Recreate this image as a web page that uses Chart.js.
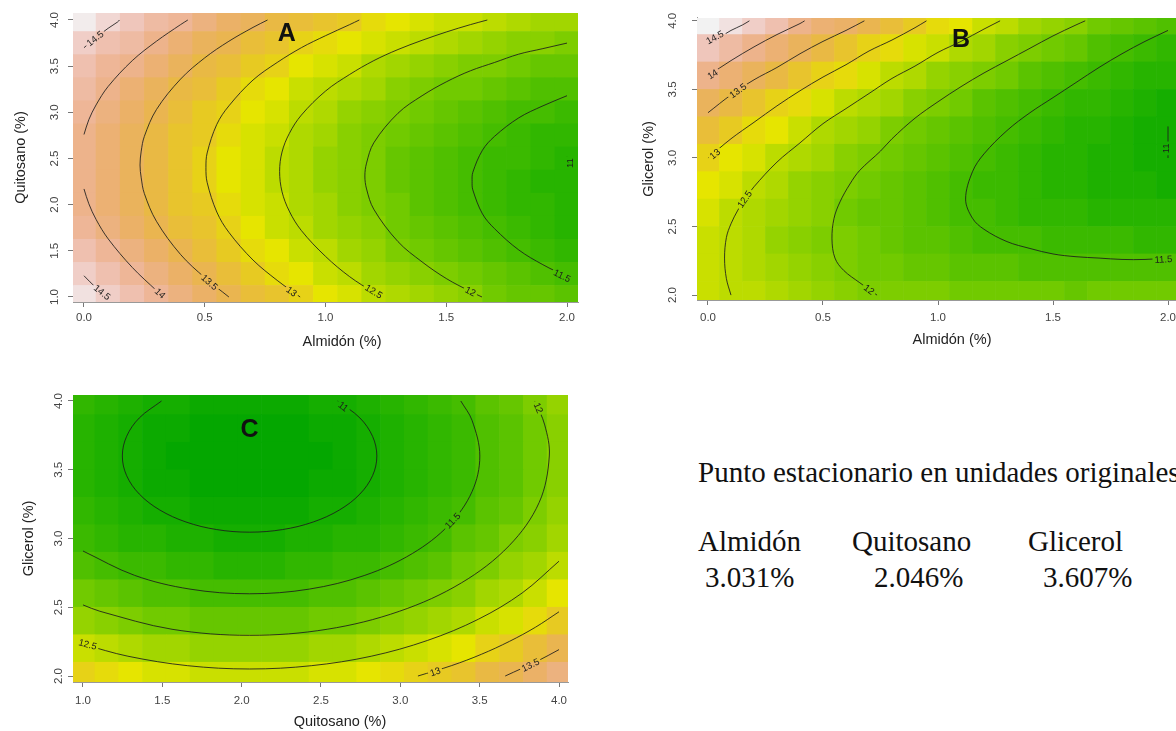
<!DOCTYPE html>
<html lang="es">
<head>
<meta charset="utf-8">
<title>Superficies de respuesta</title>
<script src="https://cdn.jsdelivr.net/npm/chart.js"></script>
<style>
  html, body { margin: 0; padding: 0; background: #fff; }
  body { width: 1176px; height: 731px; overflow: hidden; position: relative; }
  canvas { position: absolute; }
  .nota { position: absolute; font-family: "Liberation Serif", "Times New Roman", serif; font-size: 29px; line-height: 29px; color: #111; white-space: nowrap; }
</style>
</head>
<body>
<canvas id="graficoA" width="600" height="360" style="left:0;top:0"></canvas>
<canvas id="graficoB" width="600" height="360" style="left:620px;top:0"></canvas>
<canvas id="graficoC" width="600" height="351" style="left:0;top:380px"></canvas>

<div class="nota" style="left:698px;top:458px">Punto estacionario en unidades originales</div>
<div class="nota" style="left:698px;top:527px">Almidón</div>
<div class="nota" style="left:705px;top:563px">3.031%</div>
<div class="nota" style="left:852px;top:527px">Quitosano</div>
<div class="nota" style="left:874px;top:563px">2.046%</div>
<div class="nota" style="left:1028px;top:527px">Glicerol</div>
<div class="nota" style="left:1043px;top:563px">3.607%</div>

<script>
Chart.defaults.font.family = '"Liberation Sans", Arial, sans-serif';
Chart.defaults.color = '#444';

// grid positions
const almidon = [0, 0.1, 0.2, 0.3, 0.4, 0.5, 0.6, 0.7, 0.8, 0.9, 1, 1.1, 1.2, 1.3, 1.4, 1.5, 1.6, 1.7, 1.8, 1.9, 2];
const quitosanoA = [1, 1.25, 1.5, 1.75, 2, 2.25, 2.5, 2.75, 3, 3.25, 3.5, 3.75, 4];
const glicerol = [2, 2.2, 2.4, 2.6, 2.8, 3, 3.2, 3.4, 3.6, 3.8, 4];
const quitosanoC = [1, 1.15, 1.3, 1.45, 1.6, 1.75, 1.9, 2.05, 2.2, 2.35, 2.5, 2.65, 2.8, 2.95, 3.1, 3.25, 3.4, 3.55, 3.7, 3.85, 4];

// tick labels
const ticksAlmidon = [0, 0.5, 1, 1.5, 2];
const ticksQuitosano = [1, 1.5, 2, 2.5, 3, 3.5, 4];
const ticksQuitosanoC = [1, 1.5, 2, 2.5, 3, 3.5, 4];
const ticksGlicerol = [2, 2.5, 3, 3.5, 4];

// A: one array per almidon value, quitosano 1.0 -> 4.0
const respA = [
  [14.7, 14.5, 14.3, 14.1, 14.0, 14.0, 14.0, 14.0, 14.1, 14.2, 14.3, 14.5, 14.8],
  [14.5, 14.3, 14.1, 13.9, 13.8, 13.8, 13.8, 13.8, 13.9, 14.0, 14.1, 14.3, 14.6],
  [14.3, 14.1, 13.9, 13.7, 13.6, 13.6, 13.6, 13.6, 13.7, 13.8, 14.0, 14.2, 14.4],
  [14.1, 13.9, 13.7, 13.5, 13.4, 13.4, 13.4, 13.4, 13.5, 13.6, 13.8, 14.0, 14.2],
  [13.9, 13.7, 13.5, 13.3, 13.2, 13.2, 13.2, 13.2, 13.3, 13.4, 13.6, 13.8, 14.1],
  [13.7, 13.5, 13.3, 13.2, 13.1, 13.0, 13.0, 13.1, 13.1, 13.3, 13.4, 13.6, 13.9],
  [13.5, 13.3, 13.1, 13.0, 12.9, 12.8, 12.8, 12.9, 13.0, 13.1, 13.3, 13.5, 13.7],
  [13.3, 13.1, 12.9, 12.8, 12.7, 12.7, 12.7, 12.7, 12.8, 12.9, 13.1, 13.3, 13.6],
  [13.2, 12.9, 12.8, 12.6, 12.6, 12.5, 12.5, 12.6, 12.7, 12.8, 13.0, 13.2, 13.4],
  [13.0, 12.8, 12.6, 12.5, 12.4, 12.4, 12.4, 12.4, 12.5, 12.6, 12.8, 13.0, 13.3],
  [12.8, 12.6, 12.5, 12.3, 12.3, 12.2, 12.2, 12.3, 12.4, 12.5, 12.7, 12.9, 13.2],
  [12.7, 12.5, 12.3, 12.2, 12.1, 12.1, 12.1, 12.1, 12.2, 12.4, 12.6, 12.8, 13.1],
  [12.5, 12.3, 12.2, 12.1, 12.0, 12.0, 12.0, 12.0, 12.1, 12.3, 12.4, 12.7, 12.9],
  [12.4, 12.2, 12.0, 11.9, 11.9, 11.8, 11.8, 11.9, 12.0, 12.1, 12.3, 12.6, 12.8],
  [12.3, 12.1, 11.9, 11.8, 11.7, 11.7, 11.7, 11.8, 11.9, 12.0, 12.2, 12.5, 12.7],
  [12.2, 12.0, 11.8, 11.7, 11.6, 11.6, 11.6, 11.7, 11.8, 11.9, 12.1, 12.4, 12.6],
  [12.1, 11.9, 11.7, 11.6, 11.5, 11.5, 11.5, 11.6, 11.7, 11.9, 12.0, 12.3, 12.6],
  [11.9, 11.8, 11.6, 11.5, 11.4, 11.4, 11.4, 11.5, 11.6, 11.8, 12.0, 12.2, 12.5],
  [11.8, 11.7, 11.5, 11.4, 11.3, 11.3, 11.4, 11.4, 11.5, 11.7, 11.9, 12.1, 12.4],
  [11.8, 11.6, 11.4, 11.3, 11.3, 11.2, 11.3, 11.3, 11.5, 11.6, 11.8, 12.1, 12.3],
  [11.7, 11.5, 11.3, 11.2, 11.2, 11.2, 11.2, 11.3, 11.4, 11.6, 11.8, 12.0, 12.3]
];

// B: one array per almidon value, glicerol 2.0 -> 4.0
const respB = [
  [12.6, 12.6, 12.6, 12.7, 12.8, 13.0, 13.3, 13.6, 14.0, 14.4, 14.9],
  [12.5, 12.5, 12.5, 12.5, 12.7, 12.8, 13.1, 13.4, 13.8, 14.2, 14.7],
  [12.5, 12.4, 12.4, 12.4, 12.5, 12.7, 12.9, 13.2, 13.6, 14.0, 14.5],
  [12.4, 12.3, 12.2, 12.3, 12.4, 12.5, 12.8, 13.0, 13.4, 13.8, 14.3],
  [12.3, 12.2, 12.1, 12.2, 12.2, 12.4, 12.6, 12.9, 13.2, 13.6, 14.0],
  [12.2, 12.1, 12.0, 12.1, 12.1, 12.3, 12.4, 12.7, 13.0, 13.4, 13.8],
  [12.1, 12.0, 12.0, 11.9, 12.0, 12.1, 12.3, 12.5, 12.9, 13.2, 13.7],
  [12.0, 11.9, 11.9, 11.8, 11.9, 12.0, 12.2, 12.4, 12.7, 13.0, 13.5],
  [12.0, 11.9, 11.8, 11.8, 11.8, 11.9, 12.0, 12.3, 12.5, 12.9, 13.3],
  [12.0, 11.8, 11.7, 11.7, 11.7, 11.8, 11.9, 12.1, 12.4, 12.7, 13.1],
  [12.0, 11.8, 11.7, 11.6, 11.6, 11.7, 11.8, 12.0, 12.2, 12.6, 12.9],
  [11.9, 11.7, 11.6, 11.5, 11.5, 11.6, 11.7, 11.9, 12.1, 12.4, 12.8],
  [11.9, 11.7, 11.5, 11.5, 11.4, 11.5, 11.6, 11.7, 12.0, 12.3, 12.6],
  [11.9, 11.7, 11.5, 11.4, 11.4, 11.4, 11.5, 11.6, 11.9, 12.1, 12.5],
  [11.9, 11.6, 11.5, 11.3, 11.3, 11.3, 11.4, 11.5, 11.7, 12.0, 12.3],
  [11.9, 11.6, 11.4, 11.3, 11.2, 11.2, 11.3, 11.4, 11.6, 11.9, 12.2],
  [11.8, 11.6, 11.4, 11.3, 11.2, 11.2, 11.2, 11.3, 11.5, 11.8, 12.1],
  [11.9, 11.6, 11.4, 11.2, 11.1, 11.1, 11.2, 11.3, 11.4, 11.6, 11.9],
  [11.9, 11.6, 11.4, 11.2, 11.1, 11.1, 11.1, 11.2, 11.3, 11.5, 11.8],
  [11.9, 11.6, 11.3, 11.2, 11.1, 11.0, 11.0, 11.1, 11.2, 11.4, 11.7],
  [11.9, 11.6, 11.3, 11.2, 11.0, 11.0, 11.0, 11.0, 11.2, 11.3, 11.6]
];

// C: one array per quitosano value, glicerol 2.0 -> 4.0
const respC = [
  [13.0, 12.6, 12.2, 11.9, 11.6, 11.4, 11.3, 11.2, 11.2, 11.2, 11.3],
  [12.9, 12.5, 12.1, 11.8, 11.5, 11.3, 11.2, 11.1, 11.1, 11.1, 11.2],
  [12.8, 12.4, 12.0, 11.7, 11.4, 11.2, 11.1, 11.0, 11.0, 11.0, 11.1],
  [12.7, 12.3, 11.9, 11.6, 11.4, 11.2, 11.0, 10.9, 10.9, 10.9, 11.0],
  [12.7, 12.3, 11.9, 11.6, 11.3, 11.1, 11.0, 10.9, 10.8, 10.9, 11.0],
  [12.6, 12.2, 11.8, 11.5, 11.3, 11.1, 10.9, 10.8, 10.8, 10.8, 10.9],
  [12.6, 12.2, 11.8, 11.5, 11.2, 11.0, 10.9, 10.8, 10.8, 10.8, 10.9],
  [12.6, 12.2, 11.8, 11.5, 11.2, 11.0, 10.9, 10.8, 10.8, 10.8, 10.9],
  [12.6, 12.2, 11.8, 11.5, 11.2, 11.0, 10.9, 10.8, 10.8, 10.8, 10.9],
  [12.6, 12.2, 11.8, 11.5, 11.3, 11.1, 10.9, 10.8, 10.8, 10.8, 10.9],
  [12.7, 12.3, 11.9, 11.6, 11.3, 11.1, 11.0, 10.9, 10.8, 10.9, 11.0],
  [12.7, 12.3, 11.9, 11.6, 11.4, 11.2, 11.0, 10.9, 10.9, 10.9, 11.0],
  [12.8, 12.4, 12.0, 11.7, 11.4, 11.2, 11.1, 11.0, 11.0, 11.0, 11.1],
  [12.9, 12.5, 12.1, 11.8, 11.5, 11.3, 11.2, 11.1, 11.1, 11.1, 11.2],
  [13.0, 12.6, 12.2, 11.9, 11.6, 11.4, 11.3, 11.2, 11.2, 11.2, 11.3],
  [13.1, 12.7, 12.3, 12.0, 11.7, 11.5, 11.4, 11.3, 11.3, 11.3, 11.4],
  [13.2, 12.8, 12.4, 12.1, 11.9, 11.7, 11.5, 11.4, 11.4, 11.4, 11.5],
  [13.4, 13.0, 12.6, 12.3, 12.0, 11.8, 11.7, 11.6, 11.6, 11.6, 11.7],
  [13.5, 13.1, 12.7, 12.4, 12.2, 12.0, 11.8, 11.7, 11.7, 11.7, 11.8],
  [13.7, 13.3, 12.9, 12.6, 12.3, 12.1, 12.0, 11.9, 11.9, 11.9, 12.0],
  [13.9, 13.5, 13.1, 12.8, 12.5, 12.3, 12.2, 12.1, 12.1, 12.1, 12.2]
];

// contour lines, [x, y]
const contoursA = [
  { level: '14.5', pts: [[0, 3.70], [0.05, 3.81], [0.1, 3.91], [0.14, 3.98], [0.147, 4.0]] },
  { level: '14.5', pts: [[0, 1.23], [0.05, 1.10], [0.098, 1.0]] },
  { level: '14', pts: [[0, 2.76], [0.02, 2.92], [0.05, 3.08], [0.1, 3.28], [0.2, 3.56], [0.3, 3.77], [0.4, 3.95], [0.43, 4.0]] },
  { level: '14', pts: [[0, 2.17], [0.02, 2.01], [0.05, 1.84], [0.1, 1.63], [0.2, 1.32], [0.3, 1.07], [0.33, 1.0]] },
  { level: '13.5', pts: [[0.6, 1.0], [0.5, 1.21], [0.4, 1.46], [0.3, 1.82], [0.25, 2.12], [0.237, 2.29], [0.232, 2.43], [0.237, 2.58], [0.25, 2.74], [0.3, 3.03], [0.4, 3.36], [0.5, 3.59], [0.6, 3.77], [0.7, 3.92], [0.76, 4.0]] },
  { level: '13', pts: [[0.895, 1.0], [0.8, 1.18], [0.7, 1.40], [0.6, 1.70], [0.55, 1.92], [0.51, 2.24], [0.505, 2.40], [0.51, 2.56], [0.55, 2.87], [0.6, 3.07], [0.7, 3.35], [0.8, 3.54], [0.9, 3.70], [1.0, 3.83], [1.1, 3.95], [1.14, 4.0]] },
  { level: '12.5', pts: [[1.235, 1.0], [1.2, 1.05], [1.1, 1.22], [1.0, 1.44], [0.9, 1.72], [0.85, 1.93], [0.82, 2.14], [0.81, 2.36], [0.82, 2.57], [0.85, 2.77], [0.9, 2.97], [1.0, 3.23], [1.1, 3.41], [1.2, 3.56], [1.3, 3.68], [1.4, 3.78], [1.5, 3.87], [1.6, 3.95], [1.67, 4.0]] },
  { level: '12', pts: [[1.648, 1.0], [1.6, 1.06], [1.5, 1.20], [1.4, 1.38], [1.3, 1.60], [1.2, 1.95], [1.17, 2.17], [1.163, 2.31], [1.17, 2.45], [1.2, 2.67], [1.3, 2.99], [1.4, 3.18], [1.5, 3.33], [1.6, 3.45], [1.7, 3.54], [1.8, 3.63], [1.9, 3.69], [2.0, 3.75]] },
  { level: '11.5', pts: [[2.0, 1.22], [1.9, 1.35], [1.8, 1.51], [1.7, 1.74], [1.65, 1.90], [1.61, 2.16], [1.607, 2.25], [1.61, 2.35], [1.65, 2.59], [1.7, 2.74], [1.8, 2.94], [1.9, 3.07], [2.0, 3.18]] },
  { level: '11', pts: [[2.0, 2.38], [2.0, 2.52]] }
];
const labelsA = [
  { level: '14.5', x: 0.046, y: 3.80 }, { level: '14.5', x: 0.075, y: 1.05 },
  { level: '14', x: 0.315, y: 1.04 }, { level: '13.5', x: 0.52, y: 1.16 },
  { level: '13', x: 0.86, y: 1.06 }, { level: '12.5', x: 1.2, y: 1.06 },
  { level: '12', x: 1.6, y: 1.06 }, { level: '11.5', x: 1.98, y: 1.23 },
  { level: '11', x: 2.01, y: 2.45 }
];

const contoursB = [
  { level: '14.5', pts: [[0, 3.84], [0.05, 3.88], [0.1, 3.93], [0.15, 3.97], [0.18, 4.0]] },
  { level: '14', pts: [[0, 3.60], [0.1, 3.71], [0.2, 3.81], [0.3, 3.90], [0.4, 3.98], [0.42, 4.0]] },
  { level: '13.5', pts: [[0, 3.33], [0.1, 3.46], [0.2, 3.57], [0.3, 3.66], [0.4, 3.76], [0.5, 3.85], [0.6, 3.93], [0.68, 4.0]] },
  { level: '13', pts: [[0, 3.0], [0.1, 3.14], [0.2, 3.26], [0.3, 3.38], [0.4, 3.49], [0.5, 3.59], [0.6, 3.68], [0.7, 3.78], [0.8, 3.86], [0.9, 3.95], [0.95, 4.0]] },
  { level: '12.5', pts: [[0.1, 2.0], [0.08, 2.12], [0.072, 2.27], [0.08, 2.42], [0.1, 2.52], [0.13, 2.62], [0.16, 2.70], [0.2, 2.79], [0.3, 2.97], [0.4, 3.11], [0.5, 3.25], [0.6, 3.36], [0.7, 3.47], [0.8, 3.58], [0.9, 3.67], [1.0, 3.77], [1.1, 3.85], [1.2, 3.94], [1.27, 4.0]] },
  { level: '12', pts: [[0.735, 2.0], [0.66, 2.09], [0.59, 2.18], [0.552, 2.27], [0.539, 2.41], [0.548, 2.56], [0.574, 2.68], [0.617, 2.81], [0.66, 2.91], [0.75, 3.05], [0.8, 3.14], [0.9, 3.29], [1.0, 3.41], [1.1, 3.52], [1.2, 3.62], [1.3, 3.71], [1.4, 3.80], [1.5, 3.89], [1.6, 3.97], [1.64, 4.0]] },
  { level: '11.5', pts: [[2.0, 2.27], [1.9, 2.26], [1.8, 2.26], [1.7, 2.27], [1.6, 2.28], [1.5, 2.30], [1.4, 2.34], [1.3, 2.39], [1.2, 2.48], [1.15, 2.56], [1.12, 2.70], [1.15, 2.90], [1.2, 3.03], [1.3, 3.20], [1.4, 3.33], [1.5, 3.44], [1.6, 3.55], [1.7, 3.66], [1.8, 3.76], [1.9, 3.85], [2.0, 3.93]] },
  { level: '11', pts: [[2.0, 3.0], [2.0, 3.23]] }
];
const labelsB = [
  { level: '14.5', x: 0.03, y: 3.88 }, { level: '14', x: 0.02, y: 3.61 },
  { level: '13.5', x: 0.13, y: 3.49 }, { level: '13', x: 0.03, y: 3.03 },
  { level: '12.5', x: 0.16, y: 2.70 }, { level: '12', x: 0.70, y: 2.04 },
  { level: '11.5', x: 1.98, y: 2.26 }, { level: '11', x: 1.99, y: 3.07 }
];

const contoursC = [
  { level: '11', pts: [[2.605, 4.0], [2.745, 3.877], [2.825, 3.743], [2.852, 3.6], [2.825, 3.457], [2.745, 3.323], [2.617, 3.208], [2.451, 3.120], [2.258, 3.065], [2.05, 3.046], [1.842, 3.065], [1.649, 3.120], [1.483, 3.208], [1.355, 3.323], [1.275, 3.457], [1.248, 3.6], [1.275, 3.743], [1.355, 3.877], [1.495, 4.0]] },
  { level: '11.5', pts: [[3.381, 4.0], [3.452, 3.859], [3.501, 3.6], [3.452, 3.341], [3.307, 3.099], [3.076, 2.891], [2.776, 2.732], [2.426, 2.632], [2.05, 2.598], [1.674, 2.632], [1.325, 2.732], [1.0, 2.909]] },
  { level: '12', pts: [[3.848, 4.0], [3.910, 3.826], [3.939, 3.6], [3.875, 3.262], [3.686, 2.948], [3.386, 2.678], [2.995, 2.471], [2.539, 2.340], [2.05, 2.296], [1.561, 2.340], [1.106, 2.471], [1.0, 2.517]] },
  { level: '12.5', pts: [[4.0, 2.835], [3.768, 2.604], [3.492, 2.413], [3.172, 2.259], [2.817, 2.144], [2.439, 2.075], [2.05, 2.051], [1.660, 2.075], [1.283, 2.144], [1.0, 2.231]] },
  { level: '13', pts: [[4.0, 2.467], [3.852, 2.355], [3.688, 2.252], [3.511, 2.158], [3.324, 2.076], [3.111, 2.0]] },
  { level: '13.5', pts: [[4.0, 2.192], [3.863, 2.108], [3.661, 2.0]] }
];
const labelsC = [
  { level: '11', x: 2.64, y: 3.96 }, { level: '11.5', x: 3.33, y: 3.13 },
  { level: '12', x: 3.87, y: 3.95 }, { level: '12.5', x: 1.03, y: 2.23 },
  { level: '13', x: 3.22, y: 2.03 }, { level: '13.5', x: 3.82, y: 2.08 }
];

// R terrain.colors, shared range for the three panels
const Z_MIN = 10.75, Z_MAX = 14.85;
function terrain(v) {
  const t = Math.min(1, Math.max(0, (v - Z_MIN) / (Z_MAX - Z_MIN)));
  let h, s, val;
  if (t <= 0.5) { const u = t / 0.5; h = 120 - 60 * u; s = 1; val = 0.65 + 0.25 * u; }
  else { const u = (t - 0.5) / 0.5; h = 60 - 60 * u; s = 1 - u; val = 0.9 + 0.05 * u; }
  const c = val * s, x = c * (1 - Math.abs((h / 60) % 2 - 1)), m = val - c;
  const rgb = h < 60 ? [c, x, 0] : [x, c, 0];
  return 'rgb(' + rgb.map(k => Math.round((k + m) * 255)).join(',') + ')';
}

// one floating bar dataset per row of the grid
function celdas(xs, ys, grid) {
  return ys.map((y, j) => {
    const lo = j > 0 ? (y + ys[j - 1]) / 2 : y - (ys[1] - ys[0]) / 2;
    const hi = j < ys.length - 1 ? (y + ys[j + 1]) / 2 : y + (ys[j] - ys[j - 1]) / 2;
    return {
      type: 'bar', order: 2, grouped: false, clip: 0,
      data: xs.map((x, i) => ({ x: x, y: [lo, hi], v: grid[i][j] })),
      backgroundColor: ctx => ctx.raw ? terrain(ctx.raw.v) : '#fff',
      borderWidth: 0, barPercentage: 1, categoryPercentage: 1
    };
  });
}

function curvas(list) {
  return list.map(c => ({
    type: 'line', order: 1, label: c.level,
    data: c.pts.map(p => ({ x: p[0], y: p[1] })),
    borderColor: 'rgba(28,28,28,0.85)', borderWidth: 1,
    pointRadius: 0, tension: 0.35, fill: false
  }));
}

const LABEL_FONT = '9.5px "Liberation Sans", Arial, sans-serif';

function labelAngle(chart, contours, lab, px, py) {
  const xs = chart.scales.x, ys = chart.scales.y;
  let best = null;
  contours.filter(c => c.level === lab.level).forEach(c => {
    const pts = c.pts.map(p => [xs.getPixelForValue(p[0]), ys.getPixelForValue(p[1])]);
    pts.forEach((p, i) => {
      const d = Math.hypot(p[0] - px, p[1] - py);
      if (!best || d < best.d) best = { d: d, pts: pts, i: i };
    });
  });
  if (!best) return 0;
  const p0 = best.pts[Math.max(0, best.i - 1)];
  const p1 = best.pts[Math.min(best.pts.length - 1, best.i + 1)];
  let a = Math.atan2(p1[1] - p0[1], p1[0] - p0[0]);
  if (a > Math.PI / 2) a -= Math.PI;
  if (a < -Math.PI / 2) a += Math.PI;
  return a;
}

function labelBoxes(chart, p) {
  const ctx = chart.ctx, xs = chart.scales.x, ys = chart.scales.y;
  ctx.save();
  ctx.font = LABEL_FONT;
  const out = p.labels.map(l => {
    const px = xs.getPixelForValue(l.x), py = ys.getPixelForValue(l.y);
    return { px: px, py: py, ang: labelAngle(chart, p.contours, l, px, py),
             w: ctx.measureText(l.level).width + 4, h: 10, text: l.level };
  });
  ctx.restore();
  return out;
}

// contour labels cut the lines, panel letter, x axis name
function panelPlugin(p) {
  return {
    id: 'panel' + p.letter,
    beforeDatasetDraw(chart, args) {
      if (chart.data.datasets[args.index].type !== 'line') return;
      const ctx = chart.ctx, a = chart.chartArea;
      ctx.save();
      ctx.beginPath();
      ctx.rect(a.left - 2, a.top - 2, a.right - a.left + 4, a.bottom - a.top + 4);
      labelBoxes(chart, p).forEach(b => {
        const c = Math.cos(b.ang), s = Math.sin(b.ang);
        const q = [[-b.w / 2, -b.h / 2], [b.w / 2, -b.h / 2], [b.w / 2, b.h / 2], [-b.w / 2, b.h / 2]]
          .map(u => [b.px + u[0] * c - u[1] * s, b.py + u[0] * s + u[1] * c]);
        ctx.moveTo(q[0][0], q[0][1]);
        for (let k = 1; k < 4; k++) ctx.lineTo(q[k][0], q[k][1]);
        ctx.closePath();
      });
      ctx.clip('evenodd');
    },
    afterDatasetDraw(chart, args) {
      if (chart.data.datasets[args.index].type === 'line') chart.ctx.restore();
    },
    afterDatasetsDraw(chart) {
      const ctx = chart.ctx, a = chart.chartArea;
      ctx.save();
      ctx.fillStyle = '#1c1c1c';
      ctx.font = LABEL_FONT;
      ctx.textAlign = 'center';
      ctx.textBaseline = 'middle';
      labelBoxes(chart, p).forEach(b => {
        ctx.save();
        ctx.translate(b.px, b.py);
        ctx.rotate(b.ang);
        ctx.fillText(b.text, 0, 0.5);
        ctx.restore();
      });
      ctx.fillStyle = '#111';
      ctx.font = 'bold 25px "Liberation Sans", Arial, sans-serif';
      ctx.fillText(p.letter, chart.scales.x.getPixelForValue(p.letterAt[0]), chart.scales.y.getPixelForValue(p.letterAt[1]));
      ctx.fillStyle = '#222';
      ctx.font = '14.5px "Liberation Sans", Arial, sans-serif';
      ctx.fillText(p.xTitle, (a.left + a.right) / 2 + p.xTitleDx, a.bottom + p.xTitleDy);
      ctx.restore();
    }
  };
}

function grafico(id, p) {
  new Chart(document.getElementById(id), {
    type: 'bar',
    data: { datasets: celdas(p.xs, p.ys, p.grid).concat(curvas(p.contours)) },
    options: {
      responsive: false,
      animation: false,
      events: [],
      devicePixelRatio: 1,
      layout: { padding: p.pad },
      plugins: { legend: { display: false }, tooltip: { enabled: false } },
      scales: {
        x: {
          type: 'linear', min: p.xr[0], max: p.xr[1], offset: false,
          grid: { display: true, drawOnChartArea: false, drawTicks: true, tickLength: 5, color: '#777', offset: false },
          border: { display: true, color: '#999' },
          ticks: { autoSkip: false, padding: p.xTickPad, color: '#444', font: { size: 11.5 }, callback: v => v.toFixed(1) },
          afterBuildTicks: s => { s.ticks = p.xt.map(v => ({ value: v })); },
          afterFit: s => { s.height = p.xH; }
        },
        y: {
          type: 'linear', min: p.yr[0], max: p.yr[1], beginAtZero: false,
          grid: { display: true, drawOnChartArea: false, drawTicks: true, tickLength: 5, color: '#777' },
          border: { display: true, color: '#999' },
          ticks: { autoSkip: false, minRotation: 90, maxRotation: 90, crossAlign: 'center', padding: p.yTickPad,
                   color: '#444', font: { size: 11.5 }, callback: v => v.toFixed(1) },
          title: { display: true, text: p.yTitle, color: '#222', font: { size: 14.5 }, padding: { top: p.yTitlePad, bottom: 0 } },
          afterBuildTicks: s => { s.ticks = p.yt.map(v => ({ value: v })); },
          afterFit: s => { s.width = p.yW; }
        }
      }
    },
    plugins: [panelPlugin(p)]
  });
}

grafico('graficoA', {
  letter: 'A', letterAt: [0.84, 3.85],
  xs: almidon, ys: quitosanoA, grid: respA, contours: contoursA, labels: labelsA,
  xr: [-0.0455, 2.0455], yr: [0.9458, 4.0758], xt: ticksAlmidon, yt: ticksQuitosano,
  pad: { left: 0, top: 13, right: 22, bottom: 0 }, yW: 73, xH: 58,
  xTitle: 'Almidón (%)', yTitle: 'Quitosano (%)', yTitlePad: 12,
  yTickPad: 5, xTickPad: 4, xTitleDx: 16.5, xTitleDy: 40
});

grafico('graficoB', {
  letter: 'B', letterAt: [1.10, 3.86],
  xs: almidon, ys: glicerol, grid: respB, contours: contoursB, labels: labelsB,
  xr: [-0.0478, 2.0478], yr: [1.9643, 4.0214], xt: ticksAlmidon, yt: ticksGlicerol,
  pad: { left: 0, top: 12, right: 41, bottom: 0 }, yW: 77, xH: 60,
  xTitle: 'Almidón (%)', yTitle: 'Glicerol (%)', yTitlePad: 20,
  yTickPad: 11, xTickPad: 6, xTitleDx: 14, xTitleDy: 40
});

grafico('graficoC', {
  letter: 'C', letterAt: [2.05, 3.79],
  xs: quitosanoC, ys: glicerol, grid: respC, contours: contoursC, labels: labelsC,
  xr: [0.937, 4.0567], yr: [1.9564, 4.0436], xt: ticksQuitosanoC, yt: ticksGlicerol,
  pad: { left: 0, top: 15, right: 32, bottom: 0 }, yW: 73, xH: 49,
  xTitle: 'Quitosano (%)', yTitle: 'Glicerol (%)', yTitlePad: 20,
  yTickPad: 1, xTickPad: 7, xTitleDx: 19.5, xTitleDy: 40
});
</script>
</body>
</html>
